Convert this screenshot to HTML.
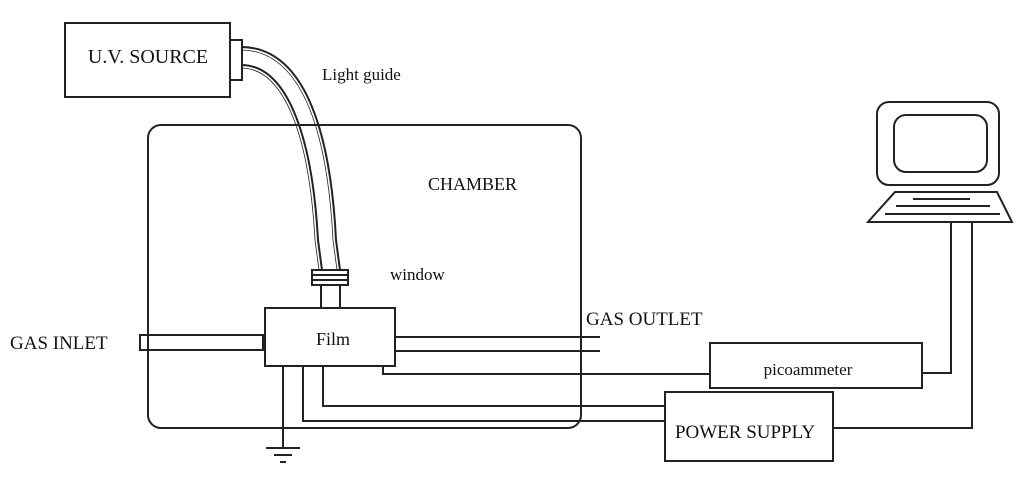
<!DOCTYPE html>
<html><head><meta charset="utf-8"><style>
html,body{margin:0;padding:0;background:#fff;}
svg{display:block;}
text{font-family:"Liberation Serif",serif;fill:#111;}
</style></head><body>
<svg width="1024" height="477" viewBox="0 0 1024 477" xmlns="http://www.w3.org/2000/svg">
<g fill="none" stroke="#222" stroke-width="2">
<!-- UV source -->
<rect x="65" y="23" width="165" height="74"/>
<rect x="230" y="40" width="12" height="40"/>
<!-- light guide -->
<path d="M242 47 C300 48 330 120 336 240 L340 270"/>
<path d="M242 65 C285 66 312 130 318 240 L322 270"/>
<path d="M242 50 C298 51 327 122 333 240 L337 270" stroke-width="0.8"/>
<path d="M242 68 C283 69 309 132 315 240 L319 270" stroke-width="0.8"/>
<!-- chamber -->
<rect x="148" y="125" width="433" height="303" rx="13"/>
<!-- window -->
<rect x="312" y="270" width="36" height="15"/>
<line x1="312" y1="275" x2="348" y2="275"/>
<line x1="312" y1="280" x2="348" y2="280"/>
<line x1="321" y1="285" x2="321" y2="308"/>
<line x1="340" y1="285" x2="340" y2="308"/>
<!-- film -->
<rect x="265" y="308" width="130" height="58"/>
<!-- gas inlet -->
<rect x="140" y="335" width="125" height="15"/>
<line x1="264" y1="334" x2="264" y2="351" stroke-width="4"/>
<!-- gas outlet -->
<line x1="395" y1="337" x2="600" y2="337"/>
<line x1="395" y1="351" x2="600" y2="351"/>
<!-- wires -->
<polyline points="383,366 383,374 710,374"/>
<polyline points="323,366 323,406 665,406"/>
<polyline points="303,366 303,421 665,421"/>
<!-- ground -->
<line x1="283" y1="366" x2="283" y2="448"/>
<line x1="266" y1="448" x2="300" y2="448"/>
<line x1="274" y1="455" x2="292" y2="455"/>
<line x1="280" y1="462" x2="286" y2="462"/>
<!-- picoammeter & power -->
<rect x="710" y="343" width="212" height="45"/>
<rect x="665" y="392" width="168" height="69"/>
<!-- computer -->
<rect x="877" y="102" width="122" height="83" rx="12"/>
<rect x="894" y="115" width="93" height="57" rx="12"/>
<path d="M895 192 L997 192 L1012 222 L868 222 Z"/>
<line x1="913" y1="199" x2="970" y2="199"/>
<line x1="896" y1="206" x2="990" y2="206"/>
<line x1="885" y1="214" x2="1000" y2="214"/>
<polyline points="951,222 951,373 922,373"/>
<polyline points="972,222 972,428 833,428"/>
</g>
<text x="148" y="63" font-size="20" text-anchor="middle">U.V. SOURCE</text>
<text x="322" y="80" font-size="17">Light guide</text>
<text x="428" y="190" font-size="18">CHAMBER</text>
<text x="390" y="280" font-size="17">window</text>
<text x="586" y="325" font-size="19">GAS OUTLET</text>
<text x="10" y="349" font-size="19">GAS INLET</text>
<text x="333" y="345" font-size="18" text-anchor="middle">Film</text>
<text x="808" y="375" font-size="17" text-anchor="middle">picoammeter</text>
<text x="745" y="438" font-size="19" text-anchor="middle">POWER SUPPLY</text>
</svg>
</body></html>
